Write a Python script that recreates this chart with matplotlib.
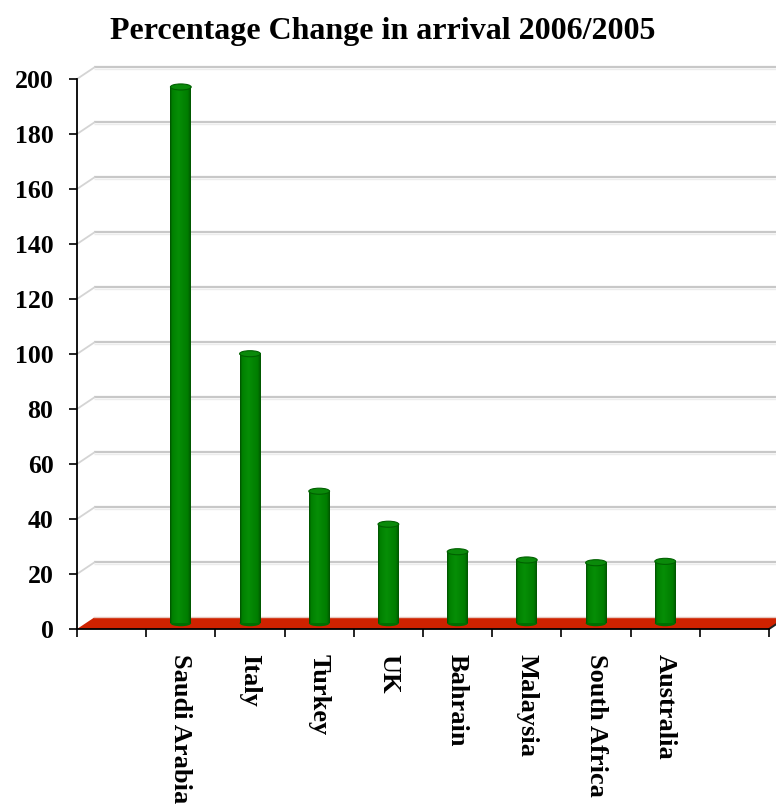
import numpy as np
import matplotlib
matplotlib.use("Agg")
import matplotlib.pyplot as plt
from matplotlib.patches import Polygon, Ellipse

# Percentage change in arrivals, 2006 vs 2005
countries = ["Saudi Arabia", "Italy", "Turkey", "UK", "Bahrain",
             "Malaysia", "South Africa", "Australia"]
pct_change = [195, 98, 48, 36, 26, 23, 22, 22.5]
y_ticks = [0, 20, 40, 60, 80, 100, 120, 140, 160, 180, 200]

plt.rcParams["font.family"] = ["Liberation Serif", "DejaVu Serif"]

n_slots = len(countries) + 2   # one empty slot on each side
DX = 0.25                      # depth offset (category units)
DY = 4.2                       # depth offset (value units)
BAR_W = 0.30
CAP_H = 2.2

fig = plt.figure(figsize=(7.76, 8.08), dpi=100)
ax = fig.add_axes([77 / 776, (808 - 629) / 808, 692 / 776, 550 / 808])

# back-wall gridlines with their diagonal connectors to the front axis
for v in y_ticks[1:]:
    ax.plot([DX, n_slots + DX], [v + DY, v + DY], color="#c8c8c8", lw=1.6,
            clip_on=False, zorder=1, solid_capstyle="butt")
    ax.plot([DX, n_slots + DX], [v + DY - 0.5, v + DY - 0.5], color="#ececec",
            lw=1.0, clip_on=False, zorder=0.9, solid_capstyle="butt")
    ax.plot([0, DX], [v, v + DY], color="#d4d4d4", lw=1.3,
            clip_on=False, zorder=1)

# red floor
floor = Polygon([(0, 0), (n_slots, 0), (n_slots + DX, DY), (DX, DY)],
                closed=True, facecolor="#cf2200", edgecolor="none",
                zorder=2, clip_on=False)
ax.add_patch(floor)
ax.plot([DX, n_slots + DX], [DY, DY], color="#e6c8c0", lw=1.0,
        clip_on=False, zorder=2.1)
ax.plot([n_slots, n_slots + DX], [0, DY], color="#222222", lw=1.4,
        clip_on=False, zorder=6)

# cylinder shading profile across the width of a bar
prof_x = np.linspace(0, 1, 60)
stops = [0.0, 0.10, 0.40, 0.85, 1.0]
cols = np.array([[0, 80, 0], [0, 128, 0], [6, 142, 6], [0, 125, 0], [0, 85, 0]]) / 255
grad = np.stack([np.interp(prof_x, stops, cols[:, k]) for k in range(3)], axis=-1)
grad = grad[np.newaxis, :, :]

for i, val in enumerate(pct_change):
    xc = i + 1.5
    base = DY / 2
    top = val + DY / 2
    ax.add_patch(Ellipse((xc, base), BAR_W, CAP_H, facecolor="#006e00",
                         edgecolor="none", zorder=3.9))
    ax.imshow(grad, extent=[xc - BAR_W / 2, xc + BAR_W / 2, base, top],
              aspect="auto", interpolation="bilinear", zorder=4)
    ax.add_patch(Ellipse((xc, top), BAR_W, CAP_H, facecolor="#0a8a0a",
                         edgecolor="#006000", lw=0.8, zorder=5))

ax.set_xlim(0, n_slots)
ax.set_ylim(0, 200)
ax.set_aspect("auto")

for side in ["top", "right"]:
    ax.spines[side].set_visible(False)
for side in ["left", "bottom"]:
    ax.spines[side].set_color("black")
    ax.spines[side].set_linewidth(1.3)
    ax.spines[side].set_zorder(7)

ax.set_yticks(y_ticks)
ax.set_yticklabels([str(v) for v in y_ticks], fontsize=18.5, fontweight="bold")
ax.tick_params(axis="y", direction="out", length=6, width=1.2, pad=11)

ax.set_xticks(range(n_slots + 1))
ax.set_xticklabels([])
ax.set_xticks([i + 1.5 for i in range(len(countries))], minor=True)
ax.set_xticklabels(countries, minor=True, rotation=270, fontsize=19,
                   fontweight="bold", ha="center", va="top")
ax.tick_params(axis="x", which="major", direction="out", length=6, width=1.2)
ax.tick_params(axis="x", which="minor", length=0, pad=18)

fig.text(383 / 776, 1 - 32 / 808, "Percentage Change in arrival 2006/2005",
         ha="center", va="center", fontsize=23, fontweight="bold")

fig.savefig("out.png", dpi=100)
